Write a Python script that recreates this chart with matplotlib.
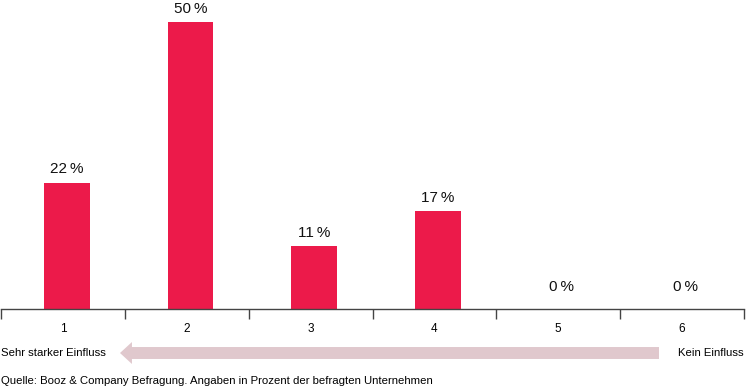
import matplotlib.pyplot as plt
from matplotlib.patches import FancyArrowPatch

categories = ["1", "2", "3", "4", "5", "6"]
values = [22, 50, 11, 17, 0, 0]
value_labels = ["22\u2009%", "50\u2009%", "11\u2009%", "17\u2009%", "0\u2009%", "0\u2009%"]
left_label = "Sehr starker Einfluss"
right_label = "Kein Einfluss"
source = "Quelle: Booz & Company Befragung. Angaben in Prozent der befragten Unternehmen"

plt.rcParams['font.family'] = ['Liberation Sans', 'DejaVu Sans']

fig = plt.figure(figsize=(7.46, 3.88), dpi=100)
ax = fig.add_axes([1 / 746, 79 / 388, 743 / 746, 309 / 388])

x = list(range(len(categories)))
bars = ax.bar([i + 0.03 for i in x], values, width=0.37, color="#ec1a4a")
for i, (v, lab) in enumerate(zip(values, value_labels)):
    # zero labels sit a little higher above the axis line in the original
    off = 4.5 if v > 0 else 10.5
    ax.annotate(lab, (i + 0.03, v), xytext=(0, off), textcoords="offset points",
                ha="center", va="bottom", fontsize=11, color="#111111")

ax.set_xlim(-0.5, len(categories) - 0.5)
ax.set_ylim(0, 50 * 309 / 287)
ax.set_xticks(x)
ax.set_xticklabels(categories, fontsize=8.5)
ax.tick_params(axis="x", which="major", length=0, pad=10)
ax.set_xticks([i - 0.5 for i in range(len(categories) + 1)], minor=True)
ax.tick_params(axis="x", which="minor", length=7, width=1, color="#444444")
for t in ax.xaxis.get_minorticklines():
    t.set_clip_on(False)
ax.set_yticks([])
for s in ["top", "right", "left"]:
    ax.spines[s].set_visible(False)
ax.spines["bottom"].set_color("#444444")
ax.spines["bottom"].set_linewidth(1)

# direction arrow below the axis
arrow = FancyArrowPatch((659 / 746, 1 - 353 / 388), (120 / 746, 1 - 353 / 388),
                        transform=fig.transFigure,
                        arrowstyle="simple,head_length=8.6,head_width=15.8,tail_width=8.6",
                        mutation_scale=1, shrinkA=0, shrinkB=0,
                        color="#e0c8cd", lw=0)
fig.patches.append(arrow)

fig.text(1 / 746, 1 - 353 / 388, left_label, ha="left", va="center", fontsize=8.2)
fig.text(744 / 746, 1 - 353 / 388, right_label, ha="right", va="center", fontsize=8.2)
fig.text(1 / 746, 1 - 381 / 388, source, ha="left", va="center", fontsize=8.2)

fig.savefig("out.png", dpi=100)
